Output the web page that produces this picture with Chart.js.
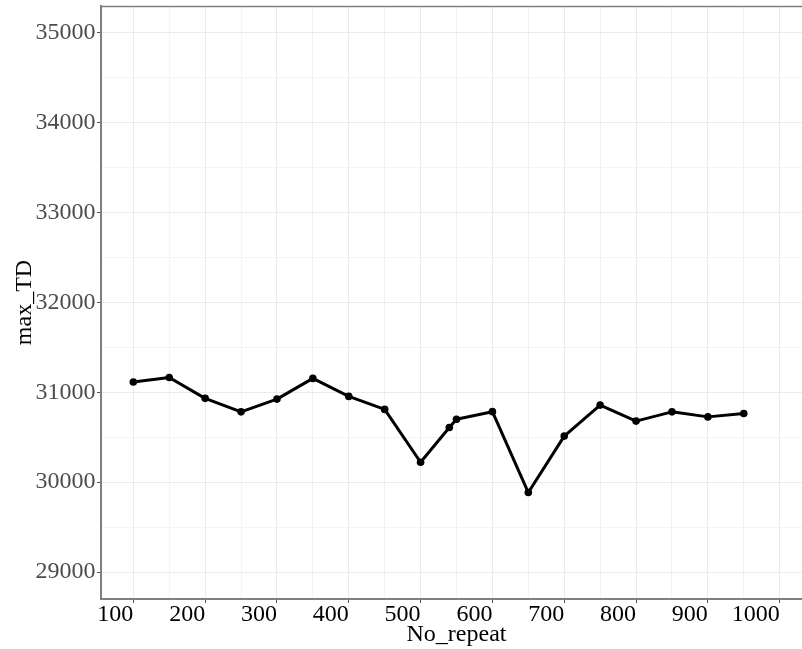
<!DOCTYPE html>
<html>
<head>
<meta charset="utf-8">
<title>max_TD vs No_repeat</title>
<script src="https://cdn.jsdelivr.net/npm/chart.js@4/dist/chart.umd.min.js"></script>
<style>
  html, body { margin: 0; padding: 0; background: #ffffff; overflow: hidden; }
  #wrap { width: 812px; height: 649px; }
</style>
</head>
<body>
<div id="wrap"><canvas id="c" width="812" height="649"></canvas></div>
<script>
// Number of repeats and the resulting maximum TD
const noRepeat = [100, 150, 200, 250, 300, 350, 400, 450, 500, 540, 550, 600, 650, 700, 750, 800, 850, 900, 950];
const maxTD    = [31115, 31165, 30933, 30783, 30925, 31155, 30955, 30810, 30222, 30608, 30701, 30785, 29885, 30513, 30858, 30680, 30783, 30727, 30765];

// Axis breaks: labelled majors and unlabelled minors
const xMajorTicks = [100, 200, 300, 400, 500, 600, 700, 800, 900, 1000];
const xMinorTicks = [150, 250, 350, 450, 550, 650, 750, 850, 950];
const yMajorTicks = [29000, 30000, 31000, 32000, 33000, 34000, 35000];
const yMinorTicks = [29500, 30500, 31500, 32500, 33500, 34500];

const serif = "'Liberation Serif', 'Times New Roman', serif";

const points = noRepeat.map((x, i) => ({ x: x, y: maxTD[i] }));

function setTicks(major, minor) {
  return function (scale) {
    const all = major.concat(minor).sort((a, b) => a - b);
    scale.ticks = all.map(v => ({ value: v, major: major.includes(v) }));
  };
}

// fixed axis box sizes, no extra room for overhanging labels
function fixSize(prop, size) {
  return function (scale) {
    scale[prop] = size;
    scale.paddingTop = 0;
    scale.paddingBottom = 0;
    scale.paddingLeft = 0;
    scale.paddingRight = 0;
  };
}

const topBorder = {
  id: 'topBorder',
  afterDraw(chart) {
    const { ctx, chartArea } = chart;
    ctx.save();
    ctx.strokeStyle = '#7f7f7f';
    ctx.lineWidth = 1.4;
    ctx.beginPath();
    ctx.moveTo(chartArea.left, chartArea.top + 0.5);
    ctx.lineTo(chartArea.right, chartArea.top + 0.5);
    ctx.stroke();
    ctx.restore();
  }
};

new Chart(document.getElementById('c'), {
  type: 'line',
  data: {
    datasets: [{
      data: points,
      borderColor: '#000000',
      backgroundColor: '#000000',
      borderWidth: 3,
      borderJoinStyle: 'round',
      borderCapStyle: 'round',
      pointRadius: 3.8,
      pointBorderWidth: 0,
      pointBackgroundColor: '#000000',
      tension: 0,
      fill: false
    }]
  },
  options: {
    responsive: false,
    devicePixelRatio: 1,
    animation: false,
    events: [],
    layout: { autoPadding: false, padding: { top: 6, left: 0, right: 0, bottom: 0 } },
    plugins: { legend: { display: false }, tooltip: { enabled: false } },
    scales: {
      x: {
        type: 'linear',
        min: 55,
        max: 1045,
        afterBuildTicks: setTicks(xMajorTicks, xMinorTicks),
        afterFit: fixSize('height', 50),
        grid: {
          color: ctx => (ctx.tick && ctx.tick.major) ? '#ebebeb' : '#f3f3f3',
          lineWidth: 1,
          drawTicks: true,
          tickLength: 4,
          tickWidth: 1,
          tickColor: ctx => (ctx.tick && ctx.tick.major) ? '#555555' : 'rgba(0,0,0,0)'
        },
        border: { display: true, color: '#7f7f7f', width: 2 },
        ticks: {
          autoSkip: false,
          maxRotation: 0,
          align: 'end',
          padding: -0.5,
          color: '#000000',
          font: { family: serif, size: 24, lineHeight: 1 },
          callback: (v) => xMajorTicks.includes(v) ? String(v) : ''
        },
        title: {
          display: true,
          text: 'No_repeat',
          color: '#000000',
          font: { family: serif, size: 24, lineHeight: 1.2 },
          padding: { top: 0, bottom: 0 }
        }
      },
      y: {
        type: 'linear',
        min: 28700,
        max: 35300,
        afterBuildTicks: setTicks(yMajorTicks, yMinorTicks),
        afterFit: fixSize('width', 101),
        grid: {
          color: ctx => (ctx.tick && ctx.tick.major) ? '#ebebeb' : '#f3f3f3',
          lineWidth: 1,
          drawTicks: true,
          tickLength: 4,
          tickWidth: 1,
          tickColor: ctx => (ctx.tick && ctx.tick.major) ? '#555555' : 'rgba(0,0,0,0)'
        },
        border: { display: true, color: '#7f7f7f', width: 2 },
        ticks: {
          autoSkip: false,
          padding: 1.5,
          color: '#4d4d4d',
          font: { family: serif, size: 24 },
          callback: (v) => yMajorTicks.includes(v) ? String(v) : ''
        },
        title: {
          display: true,
          text: 'max_TD',
          color: '#000000',
          font: { family: serif, size: 24, lineHeight: 1.2 },
          padding: { top: 10.5, bottom: 0 }
        }
      }
    }
  },
  plugins: [topBorder]
});
</script>
</body>
</html>
